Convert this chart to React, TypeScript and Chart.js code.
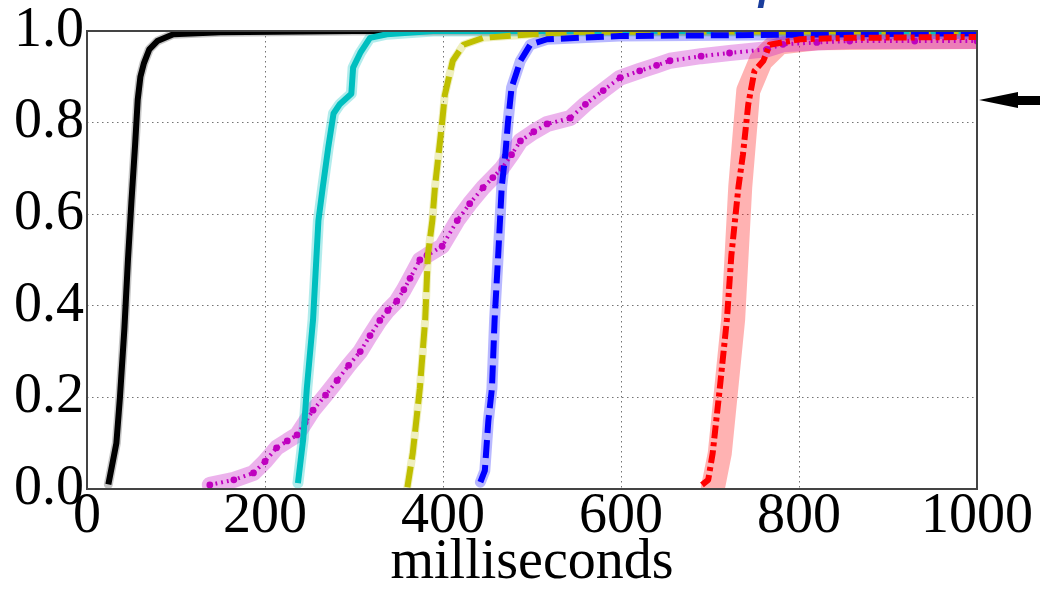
import React, { useEffect, useRef } from "react";
import { Chart, registerables } from "chart.js";

Chart.register(...registerables);

// ---- data ----
const xTicks = [0, 200, 400, 600, 800, 1000];
const yTicks = [0.0, 0.2, 0.4, 0.6, 0.8, 1.0];
const xAxisTitle = "milliseconds";

const blackX = [24, 28, 33, 37, 42, 46, 50, 54, 57, 60, 64, 70, 79, 97, 150, 300, 1000];
const blackY = [0.01, 0.05, 0.1, 0.2, 0.35, 0.5, 0.63, 0.75, 0.85, 0.9, 0.93, 0.96, 0.978, 0.993, 0.997, 1.0, 1.0];

const cyanX = [237, 243, 247, 254, 260, 265, 271, 277, 284, 297, 299, 307, 318, 337, 389, 1000];
const cyanY = [0.013, 0.11, 0.22, 0.37, 0.586, 0.66, 0.745, 0.82, 0.84, 0.863, 0.92, 0.952, 0.985, 0.993, 1.0, 1.0];

const yellowX = [360, 366, 374, 380, 383, 388, 391, 395, 399, 402, 411, 423, 445, 501, 550, 1000];
const yellowY = [0.004, 0.078, 0.22, 0.37, 0.51, 0.586, 0.66, 0.73, 0.8, 0.86, 0.935, 0.97, 0.985, 0.993, 0.998, 1.0];

const blueX = [442, 447, 451, 455, 458, 462, 466, 470, 473, 477, 487, 498, 517, 599, 800, 1000];
const blueY = [0.015, 0.04, 0.15, 0.22, 0.37, 0.51, 0.66, 0.73, 0.8, 0.876, 0.935, 0.97, 0.982, 0.989, 0.992, 0.995];

const magentaX = [138, 165, 187, 200, 213, 225, 236, 245, 254, 268, 281, 294, 307, 318, 329, 338, 348, 356, 363, 374, 382, 399, 416, 430, 445, 456, 466, 477, 487, 502, 517, 543, 560, 580, 599, 621, 640, 655, 690, 722, 764, 782, 820, 857, 930, 1000];
const magentaY = [0.009, 0.02, 0.035, 0.06, 0.09, 0.105, 0.118, 0.145, 0.172, 0.205, 0.237, 0.27, 0.3, 0.335, 0.368, 0.39, 0.41, 0.435, 0.46, 0.5, 0.51, 0.53, 0.586, 0.623, 0.658, 0.68, 0.7, 0.73, 0.76, 0.78, 0.797, 0.81, 0.84, 0.87, 0.898, 0.913, 0.925, 0.935, 0.945, 0.952, 0.96, 0.971, 0.975, 0.978, 0.978, 0.978];

const redX = [691, 698, 703, 711, 719, 724, 732, 737, 743, 750, 760, 767, 801, 857, 1000];
const redY = [0.009, 0.02, 0.078, 0.22, 0.37, 0.51, 0.66, 0.73, 0.84, 0.913, 0.935, 0.97, 0.982, 0.985, 0.987];

const redBandX = [703, 711, 726, 734, 743, 757, 778, 820, 1000];
const redBandY = [0.0, 0.078, 0.37, 0.66, 0.87, 0.935, 0.975, 0.984, 0.987];

const pts = (xs: number[], ys: number[]) => xs.map((x, i) => ({ x, y: ys[i] }));

const FONT = "'Liberation Serif', 'Times New Roman', serif";

function band(xs: number[], ys: number[], color: string, width: number) {
  return {
    data: pts(xs, ys),
    borderColor: color,
    borderWidth: width,
    pointRadius: 0,
    borderJoinStyle: "round" as const,
    borderCapStyle: "round" as const,
    fill: false,
    tension: 0,
    clip: 0,
    order: 100,
  };
}

function line(xs: number[], ys: number[], color: string, width: number, dash: number[], order: number, extra: any = {}) {
  return {
    data: pts(xs, ys),
    borderColor: color,
    backgroundColor: color,
    borderWidth: width,
    borderDash: dash,
    pointRadius: 0,
    borderJoinStyle: "round" as const,
    borderCapStyle: "butt" as const,
    fill: false,
    tension: 0,
    clip: 0,
    order,
    ...extra,
  };
}

const decorPlugin = {
  id: "decor",
  afterDraw(chart: any) {
    const { ctx, chartArea } = chart;
    const { left, top, right, bottom } = chartArea;
    ctx.save();
    // axes box
    ctx.strokeStyle = "#444";
    ctx.lineWidth = 2;
    ctx.setLineDash([]);
    ctx.strokeRect(left, top, right - left, bottom - top);
    // arrow at right
    ctx.fillStyle = "#000";
    ctx.beginPath();
    ctx.moveTo(979, 100);
    ctx.lineTo(1018, 92);
    ctx.lineTo(1018, 96);
    ctx.lineTo(1040, 96);
    ctx.lineTo(1040, 105);
    ctx.lineTo(1018, 105);
    ctx.lineTo(1018, 108);
    ctx.closePath();
    ctx.fill();
    // clipped fragment of a blue annotation above the plot
    ctx.fillStyle = "#1a3d9c";
    ctx.font = "italic bold 40px 'Liberation Sans', sans-serif";
    ctx.textBaseline = "alphabetic";
    ctx.textAlign = "left";
    ctx.fillText("l", 757, 8);
    ctx.restore();
  },
};

export default function App() {
  const ref = useRef<HTMLCanvasElement>(null);
  useEffect(() => {
    const chart = new Chart(ref.current!, {
      type: "line",
      data: {
        datasets: [
          band(blackX, blackY, "rgba(128,128,128,0.45)", 9),
          band(cyanX, cyanY, "rgba(0,191,191,0.3)", 11),
          band(yellowX, yellowY, "rgba(191,191,0,0.25)", 8),
          band(blueX, blueY, "rgba(0,0,255,0.28)", 11),
          band(magentaX, magentaY, "rgba(191,0,191,0.3)", 16),
          band(redBandX, redBandY, "rgba(255,0,0,0.3)", 24),
          line(magentaX, magentaY, "#BF00BF", 4, [1.8, 4], 6, {
            pointRadius: 3.4,
            pointBorderWidth: 0,
            pointBackgroundColor: "#BF00BF",
          }),
          line(blackX, blackY, "#000000", 6, [], 5),
          line(cyanX, cyanY, "#00BFBF", 6, [], 4),
          line(yellowX, yellowY, "#BFBF00", 6, [21, 7], 3),
          line(blueX, blueY, "#0000FF", 6, [18, 7], 2),
          line(redX, redY, "#FF0000", 6, [13, 4, 4, 4], 1),
        ] as any,
      },
      options: {
        animation: false,
        responsive: false,
        layout: { padding: { left: 0, right: 63, top: 30, bottom: 0 } },
        plugins: { legend: { display: false }, tooltip: { enabled: false } },
        scales: {
          x: {
            type: "linear",
            min: 0,
            max: 1000,
            afterBuildTicks: (s: any) => {
              s.ticks = xTicks.map((v) => ({ value: v }));
            },
            afterFit: (s: any) => {
              s.height = 100;
            },
            ticks: {
              autoSkip: false,
              maxRotation: 0,
              padding: 0,
              color: "#000",
              font: { family: FONT, size: 56, lineHeight: 1 },
              callback: (v: any) => String(v),
            },
            grid: { drawTicks: false, color: "rgba(0,0,0,0.55)", lineWidth: 1 },
            border: { display: false, dash: [1.5, 3.5] },
            title: {
              display: true,
              text: xAxisTitle,
              color: "#000",
              font: { family: FONT, size: 56, lineHeight: 0.93 },
              padding: { top: 0, bottom: 0 },
            },
          },
          y: {
            type: "linear",
            min: 0,
            max: 1,
            afterBuildTicks: (s: any) => {
              s.ticks = yTicks.map((v) => ({ value: v }));
            },
            afterFit: (s: any) => {
              s.width = 87;
            },
            ticks: {
              padding: 3,
              color: "#000",
              font: { family: FONT, size: 56, lineHeight: 1 },
              callback: (v: any) => Number(v).toFixed(1),
            },
            grid: { drawTicks: false, color: "rgba(0,0,0,0.55)", lineWidth: 1 },
            border: { display: false, dash: [1.5, 3.5] },
          },
        },
      },
      plugins: [decorPlugin],
    });
    return () => chart.destroy();
  }, []);
  return (
    <div style={{ position: "absolute", left: 0, top: 0, width: 1040, height: 589, background: "#fff" }}>
      <canvas ref={ref} width={1040} height={589} style={{ display: "block" }} />
    </div>
  );
}
